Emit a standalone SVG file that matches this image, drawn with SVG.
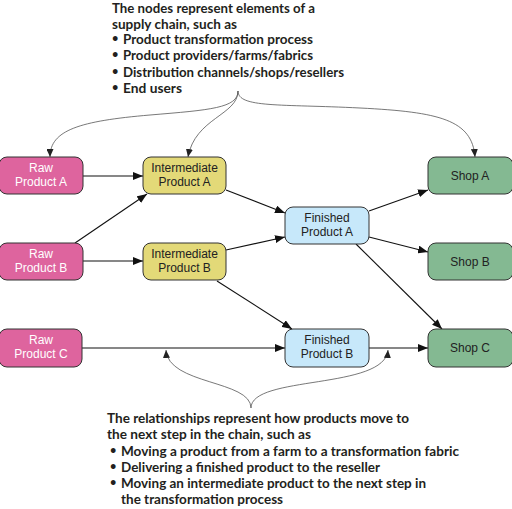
<svg xmlns="http://www.w3.org/2000/svg" width="512" height="509" viewBox="0 0 512 509">
<defs>
<marker id="arr" viewBox="0 0 10 8" refX="10" refY="4" markerWidth="10" markerHeight="8" markerUnits="userSpaceOnUse" orient="auto">
<path d="M0,0 L10,4 L0,8 Z" fill="#111"/>
</marker>
<marker id="arrs" viewBox="0 0 8 7" refX="8" refY="3.5" markerWidth="8" markerHeight="7" markerUnits="userSpaceOnUse" orient="auto">
<path d="M0,0 L8,3.5 L0,7 Z" fill="#222"/>
</marker>
<style>
.n rect{stroke:#333;stroke-width:1}
.raw rect{fill:#DE649E}
.int rect{fill:#E3D978}
.fin rect{fill:#C7E8FA}
.shop rect{fill:#84B992}
.n text{font-family:"Liberation Sans",Arial,sans-serif;font-size:12px;text-anchor:middle;fill:#222}
.raw text{fill:#fff}
.e line{stroke:#111;stroke-width:1.1;marker-end:url(#arr)}
.a path{fill:none;stroke:#555;stroke-width:0.8;marker-end:url(#arrs)}
.t{font-family:Lato,"Open Sans",sans-serif;font-weight:bold;font-size:13.5px;fill:#231f20}
.b{font-size:11px}
</style>
</defs>
<rect width="512" height="509" fill="#fff"/>
<g id="connectors" class="e">
<line x1="83" y1="176" x2="143" y2="176"/>
<line x1="75" y1="243" x2="147" y2="194"/>
<line x1="83" y1="261" x2="143" y2="261"/>
<line x1="226" y1="190" x2="285" y2="213"/>
<line x1="226" y1="250" x2="285" y2="237"/>
<line x1="217" y1="281" x2="292" y2="329"/>
<line x1="369" y1="211" x2="428" y2="190"/>
<line x1="369" y1="237" x2="428" y2="252"/>
<line x1="356" y1="244" x2="442" y2="329"/>
<line x1="82" y1="348" x2="285" y2="348"/>
<line x1="369" y1="348" x2="428" y2="348"/>
</g>
<g id="annotation-arrows" class="a">
<path d="M238,91 C238,108 210,110 150,115 C80,121 50,130 50,157"/>
<path d="M238,91 C238,115 195,118 188,157"/>
<path d="M238,91 C238,108 280,104 360,108 C440,112 472,120 475,157"/>
<path d="M251,408 C251,380 168,385 166,350"/>
<path d="M251,408 C251,375 385,390 388,350"/>
</g>
<g id="raw-a" class="n raw"><rect x="-1" y="157" width="84" height="37" rx="8"/><text x="41" y="172">Raw</text><text x="41" y="186">Product A</text></g>
<g id="raw-b" class="n raw"><rect x="-1" y="243" width="84" height="37" rx="8"/><text x="41" y="258">Raw</text><text x="41" y="272">Product B</text></g>
<g id="raw-c" class="n raw"><rect x="-1" y="329" width="83" height="38" rx="8"/><text x="41" y="344">Raw</text><text x="41" y="358">Product C</text></g>
<g id="int-a" class="n int"><rect x="143" y="157" width="83" height="37" rx="8"/><text x="184.5" y="172">Intermediate</text><text x="184.5" y="186">Product A</text></g>
<g id="int-b" class="n int"><rect x="143" y="243" width="83" height="37" rx="8"/><text x="184.5" y="258">Intermediate</text><text x="184.5" y="272">Product B</text></g>
<g id="fin-a" class="n fin"><rect x="285" y="207" width="84" height="37" rx="8"/><text x="327" y="222">Finished</text><text x="327" y="236">Product A</text></g>
<g id="fin-b" class="n fin"><rect x="285" y="329" width="84" height="38" rx="8"/><text x="327" y="344">Finished</text><text x="327" y="358">Product B</text></g>
<g id="shop-a" class="n shop"><rect x="428" y="157" width="85" height="37" rx="8"/><text x="470" y="180">Shop A</text></g>
<g id="shop-b" class="n shop"><rect x="428" y="243" width="85" height="37" rx="8"/><text x="470" y="266">Shop B</text></g>
<g id="shop-c" class="n shop"><rect x="428" y="329" width="85" height="38" rx="8"/><text x="470" y="352">Shop C</text></g>
<g id="top-note" class="t">
<text x="112" y="13" textLength="203" lengthAdjust="spacingAndGlyphs">The nodes represent elements of a</text>
<text x="112" y="28.5" textLength="125" lengthAdjust="spacingAndGlyphs">supply chain, such as</text>
<text x="112" y="42" class="b">•</text><text x="123" y="44" textLength="190" lengthAdjust="spacingAndGlyphs">Product transformation process</text>
<text x="112" y="58" class="b">•</text><text x="123" y="60" textLength="190" lengthAdjust="spacingAndGlyphs">Product providers/farms/fabrics</text>
<text x="112" y="75" class="b">•</text><text x="123" y="77" textLength="221" lengthAdjust="spacingAndGlyphs">Distribution channels/shops/resellers</text>
<text x="112" y="91" class="b">•</text><text x="123" y="93" textLength="59" lengthAdjust="spacingAndGlyphs">End users</text>
</g>
<g id="bottom-note" class="t">
<text x="107" y="423" textLength="302" lengthAdjust="spacingAndGlyphs">The relationships represent how products move to</text>
<text x="107" y="439" textLength="204" lengthAdjust="spacingAndGlyphs">the next step in the chain, such as</text>
<text x="110" y="454" class="b">•</text><text x="121" y="456" textLength="338" lengthAdjust="spacingAndGlyphs">Moving a product from a farm to a transformation fabric</text>
<text x="110" y="470" class="b">•</text><text x="121" y="472" textLength="259" lengthAdjust="spacingAndGlyphs">Delivering a finished product to the reseller</text>
<text x="110" y="486" class="b">•</text><text x="121" y="488" textLength="305" lengthAdjust="spacingAndGlyphs">Moving an intermediate product to the next step in</text>
<text x="121" y="504" textLength="162" lengthAdjust="spacingAndGlyphs">the transformation process</text>
</g>
</svg>
